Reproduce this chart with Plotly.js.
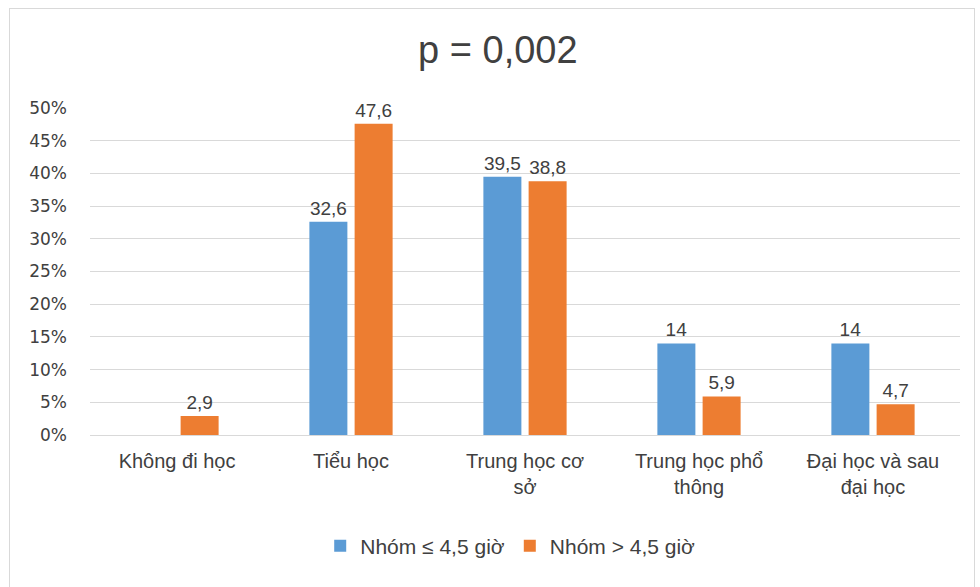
<!DOCTYPE html>
<html><head><meta charset="utf-8">
<script src="https://cdn.plot.ly/plotly-3.0.1.min.js"></script>
<style>
body{margin:0;background:#fff;}
#frame{position:absolute;left:9px;top:8px;width:966px;height:585px;border:1px solid #d9d9d9;box-sizing:border-box;pointer-events:none;z-index:5;}
#chart{position:absolute;left:0;top:0;width:980px;height:587px;}
</style></head>
<body>
<div id="chart"></div><div id="frame"></div>
<script>
const categories = ["Không đi học", "Tiểu học", "Trung học cơ<br>sở", "Trung học phổ<br>thông", "Đại học và sau<br>đại học"];
const seriesNames = ["Nhóm ≤ 4,5 giờ", "Nhóm > 4,5 giờ"];
const groupLow = [null, 32.6, 39.5, 14, 14];
const groupHigh = [2.9, 47.6, 38.8, 5.9, 4.7];
const yTicks = [0,5,10,15,20,25,30,35,40,45,50];

const fmt = v => v === null ? "" : String(v).replace('.', ',');
const lblFont = {family: "Liberation Sans, Arial, sans-serif", size: 19, color: "#404040"};

const traces = [
  {type:'bar', name: seriesNames[0], x: categories, y: groupLow, marker:{color:'#5b9bd5'},
   text: groupLow.map(fmt), textposition:'outside', textfont: lblFont, cliponaxis:false, hoverinfo:'none'},
  {type:'bar', name: seriesNames[1], x: categories, y: groupHigh, marker:{color:'#ed7d31'},
   text: groupHigh.map(fmt), textposition:'outside', textfont: lblFont, cliponaxis:false, hoverinfo:'none'}
];

const layout = {
  width: 980, height: 587,
  paper_bgcolor:'#ffffff', plot_bgcolor:'#ffffff',
  margin:{l:90, r:20, t:108, b:152},
  title:{text:'p = 0,002', x:0.508, xanchor:'center', y:0.915, yanchor:'middle',
    font:{family:'Liberation Sans, Arial, sans-serif', size:38, color:'#404040'}},
  barmode:'group', bargap:0.48, bargroupgap:0.16,
  xaxis:{tickfont:{family:'Liberation Sans, Arial, sans-serif', size:20, color:'#404040'},
    showgrid:false, showline:false, ticks:'', ticklabelstandoff:12},
  yaxis:{range:[0,50], tickvals:yTicks, ticktext:yTicks.map(v=>v+'%'),
    tickfont:{family:'DejaVu Sans, sans-serif', size:17, color:'#404040'},
    gridcolor:'#d9d9d9', gridwidth:1, zeroline:true, zerolinecolor:'#d9d9d9', zerolinewidth:1,
    showline:false, ticks:'', ticklabelstandoff:22},
  showlegend:true,
  legend:{orientation:'h', x:0.483, xanchor:'center', y:-0.34, yanchor:'middle',
    font:{family:'Liberation Sans, Arial, sans-serif', size:21, color:'#404040'},
    itemwidth:30, traceorder:'normal'},
};
Plotly.newPlot('chart', traces, layout, {staticPlot:true, displayModeBar:false});
</script>
</body></html>
